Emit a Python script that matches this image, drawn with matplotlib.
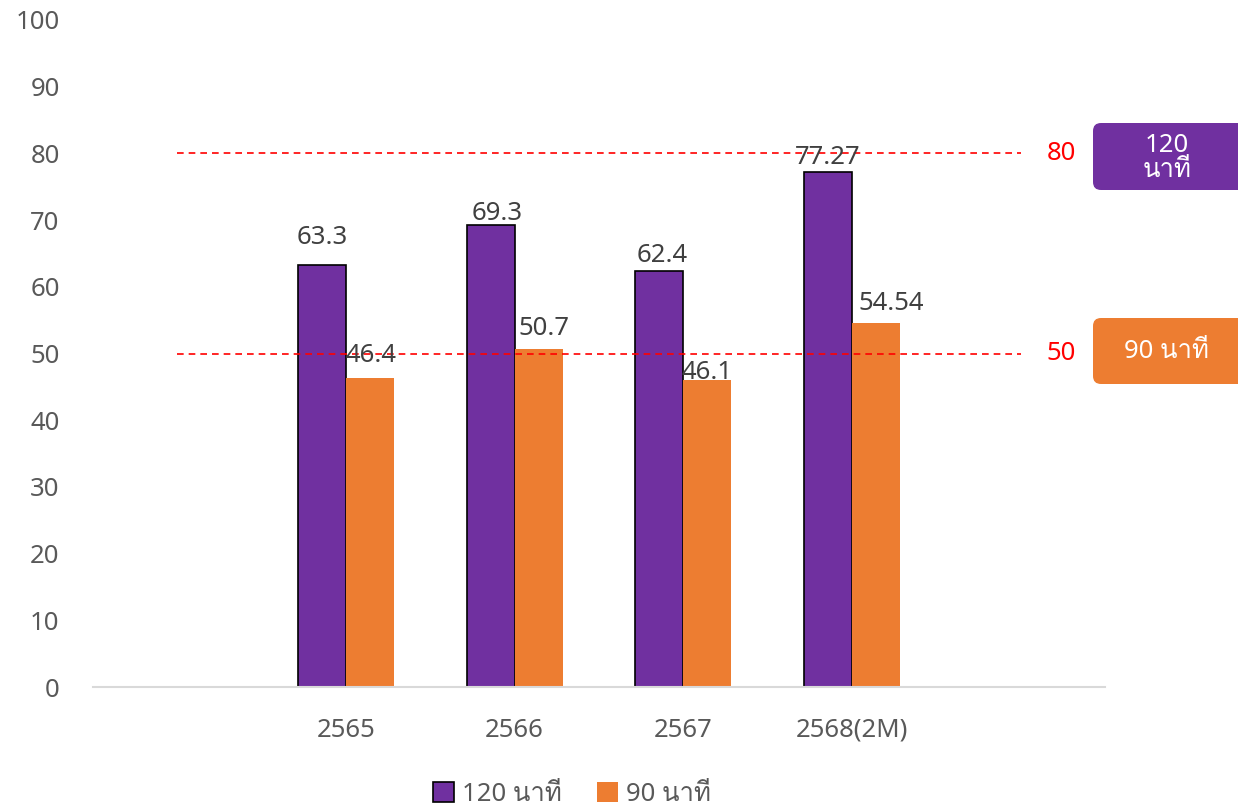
import matplotlib
matplotlib.use("Agg")
import matplotlib.pyplot as plt
import matplotlib.transforms as mtransforms
from matplotlib import font_manager
from matplotlib.ft2font import FT2Font
from matplotlib.patches import FancyBboxPatch, Patch
import numpy as np

years = ["2565", "2566", "2567", "2568(2M)"]
min_120 = [63.3, 69.3, 62.4, 77.27]
min_90 = [46.4, 50.7, 46.1, 54.54]
target_120 = 80
target_90 = 50
label_120 = "120 นาที"
label_90 = "90 นาที"

# value label nudges (dx, dy) in points above each bar top
offsets_120 = [(0, 20), (5, 8), (2, 11), (0, 10)]
offsets_90 = [(1, 16), (4, 15), (0, 5), (11, 14)]

PURPLE = "#7030A0"
ORANGE = "#ED7D31"
GRAY = "#595959"
FS = 18.5


def find_thai_font():
    # first installed family that has the Thai glyphs
    for f in font_manager.fontManager.ttflist:
        try:
            if 0x0E19 in FT2Font(f.fname).get_charmap():
                return f.name
        except Exception:
            pass
    return None


families = ["Noto Sans"]
thai = find_thai_font()
if thai:
    families.append(thai)
families.append("DejaVu Sans")
plt.rcParams["font.family"] = families

fig = plt.figure(figsize=(12.38, 8.06), dpi=100)
ax = fig.add_axes([0.0751, 0.1476, 0.8175, 0.8276])

x = np.arange(len(years))
w = 0.284
b1 = ax.bar(x - w / 2, min_120, w, color=PURPLE, edgecolor="black", linewidth=1.2)
b2 = ax.bar(x + w / 2, min_90, w, color=ORANGE, linewidth=0)

for bars, vals, offs in ((b1, min_120, offsets_120), (b2, min_90, offsets_90)):
    for rect, v, (dx, dy) in zip(bars, vals, offs):
        ax.annotate(f"{v:g}", (rect.get_x() + rect.get_width() / 2, v),
                    xytext=(dx, dy), textcoords="offset points",
                    ha="center", va="center", fontsize=FS, color="#404040")

# target lines
for t in (target_120, target_90):
    ax.hlines(t, -1, 4, colors="#FF0000", linestyles=(0, (4, 3)), linewidth=1.2)

ax.set_xlim(-1.5, 4.5)
ax.set_ylim(0, 100)
ax.set_yticks(np.arange(0, 101, 10))
ax.set_xticks(x)
ax.set_xticklabels(years)
ax.tick_params(axis="y", length=0, pad=24, labelsize=FS, labelcolor=GRAY)
ax.tick_params(axis="x", length=0, pad=22, labelsize=FS, labelcolor=GRAY)
for s in ("top", "right", "left"):
    ax.spines[s].set_visible(False)
ax.spines["bottom"].set_color("#D9D9D9")
ax.spines["bottom"].set_linewidth(1.5)

# red target values on the right
tr = mtransforms.blended_transform_factory(ax.transAxes, ax.transData)
ax.text(0.957, target_120, str(target_120), transform=tr, color="#FF0000",
        fontsize=FS, ha="center", va="center", clip_on=False)
ax.text(0.957, target_90, str(target_90), transform=tr, color="#FF0000",
        fontsize=FS, ha="center", va="center", clip_on=False)

# rounded tags
inch = fig.dpi_scale_trans
tag1 = FancyBboxPatch((10.93, 6.16), 1.6, 0.67, boxstyle="round,pad=0,rounding_size=0.08",
                      transform=inch, facecolor=PURPLE, edgecolor="none")
tag2 = FancyBboxPatch((10.93, 4.22), 1.6, 0.66, boxstyle="round,pad=0,rounding_size=0.08",
                      transform=inch, facecolor=ORANGE, edgecolor="none")
fig.patches.extend([tag1, tag2])
fig.text(11.67, 6.48, label_120.replace(" ", "\n"), transform=inch, color="white",
         fontsize=FS, ha="center", va="center", linespacing=0.95)
fig.text(11.67, 4.55, label_90, transform=inch, color="white",
         fontsize=FS, ha="center", va="center")

handles = [Patch(facecolor=PURPLE, edgecolor="black", linewidth=1.2),
           Patch(facecolor=ORANGE, edgecolor="none")]
fig.legend(handles, [label_120, label_90], loc="lower center",
           bbox_to_anchor=(572 / 1238, -0.03), ncol=2, frameon=False,
           fontsize=FS, labelcolor=GRAY, handlelength=0.8, handleheight=0.8,
           handletextpad=0.3, columnspacing=1.4)

fig.savefig("out.png", dpi=100)
